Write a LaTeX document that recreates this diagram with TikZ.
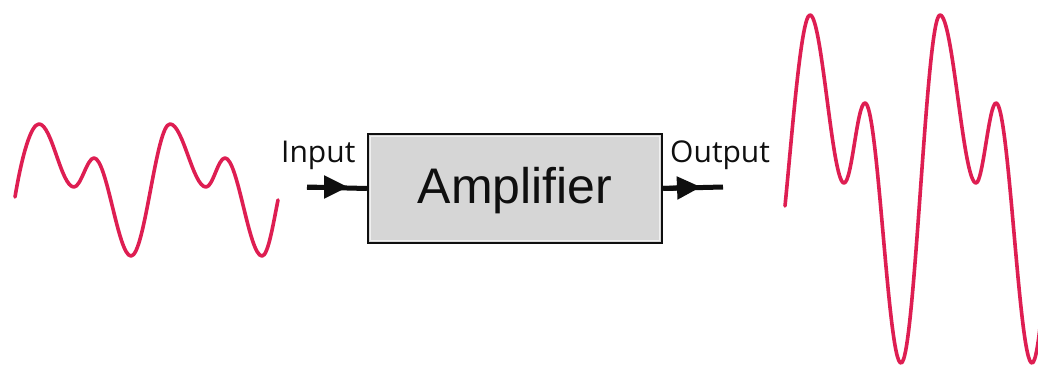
\documentclass[tikz,border=0pt]{standalone}
\usepackage{fontspec}
\setmainfont{Liberation Sans}
\newfontfamily\lblfont{Open Sans}
\usetikzlibrary{arrows.meta}
\definecolor{wavecol}{RGB}{222,30,82}
\definecolor{boxfill}{RGB}{214,214,214}
\definecolor{inkcol}{RGB}{15,15,15}
\tikzset{
  wave/.style={draw=wavecol, line width=3.6pt, line cap=round, line join=round},
  wire/.style={draw=inkcol, line width=5pt},
  tip/.style={-{Triangle[length=24pt,width=22pt]}},
  lbl/.style={font=\lblfont\fontsize{30pt}{32pt}\selectfont, text=inkcol, inner sep=0pt, anchor=base west},
  ampbox/.style={draw=inkcol, line width=2.4pt, fill=boxfill, minimum width=294pt, minimum height=109pt, inner sep=0pt}
}
\begin{document}
\begin{tikzpicture}[x=1pt,y=-1pt]
\useasboundingbox (0,0) rectangle (1038,369);
\clip (0,0) rectangle (1038,369);
\fill[white] (0,0) rectangle (1038,369);
% input wave
\draw[wave] (15,197) .. controls (22,155) and (31,124) .. (39,124)
  .. controls (52,124) and (61,187) .. (74,187)
  .. controls (81,187) and (87,158) .. (94,158)
  .. controls (107,158) and (118,256) .. (131,256)
  .. controls (145,256) and (156,124) .. (170,124)
  .. controls (183,124) and (193,187) .. (206,187)
  .. controls (213,187) and (218,158) .. (225,158)
  .. controls (238,158) and (249,256) .. (262,256)
  .. controls (268,256) and (273,225) .. (278,200);
% output wave
\draw[wave] (785,206) .. controls (792,136) and (801,15) .. (810,15)
  .. controls (822,15) and (832,183) .. (844,183)
  .. controls (852,183) and (857,103) .. (865,103)
  .. controls (878,103) and (888,363) .. (901,363)
  .. controls (915,363) and (926,15) .. (940,15)
  .. controls (953,15) and (963,183) .. (976,183)
  .. controls (983,183) and (989,103) .. (996,103)
  .. controls (1009,103) and (1019,363) .. (1032,363)
  .. controls (1046,363) and (1057,15) .. (1071,15);
% amplifier box
\node[ampbox] (amp) at (515,188.5) {};
\draw[white!88!gray, line width=1.2pt] ([shift={(3.5pt,-3.5pt)}]amp.north west) rectangle ([shift={(-3.5pt,3.5pt)}]amp.south east);
\node[font=\fontsize{50pt}{52pt}\selectfont, text=inkcol, inner sep=0pt, anchor=base] (amptext) at (515,203) {Amplifier};
% input
\coordinate (inL) at (307,187);
\coordinate (inTip) at (348,187);
\draw[wire] (inL) -- (amp.west);
\draw[wire,tip] (inL) -- (inTip);
\node[lbl] (inlbl) at (281,162) {Input};
% output
\coordinate (outR) at (723,187);
\coordinate (outTip) at (701,187);
\draw[wire] (amp.east) -- (outR);
\draw[wire,tip] (amp.east) -- (outTip);
\node[lbl] (outlbl) at (670,162) {Output};
\end{tikzpicture}
\end{document}
